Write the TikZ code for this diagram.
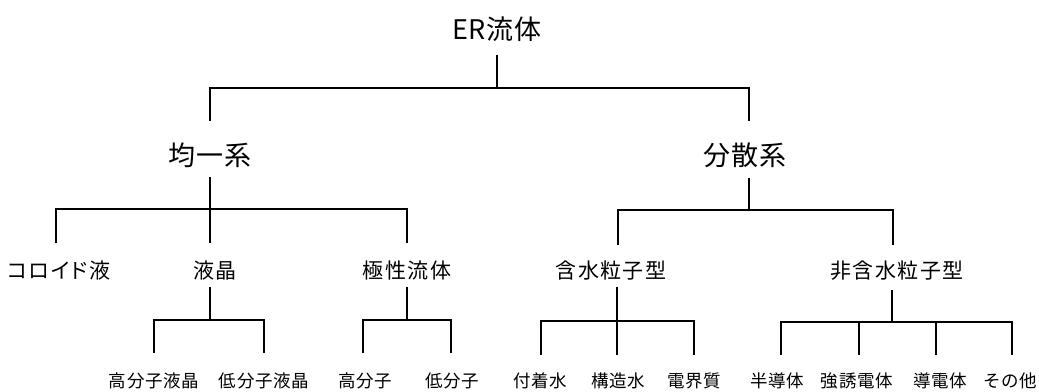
\documentclass[tikz,border=0pt]{standalone}
\usepackage{fontspec}
\setmainfont{Noto Sans CJK JP}
\begin{document}
\begin{tikzpicture}[x=1pt,y=-1pt,
  lv1/.style={font=\fontsize{27}{30}\selectfont\addfontfeature{LetterSpace=3}, inner sep=0pt},
  lv3/.style={font=\fontsize{21}{24}\selectfont\addfontfeature{LetterSpace=7}, inner sep=0pt},
  lvk/.style={font=\fontsize{21}{24}\selectfont\addfontfeature{RawFeature=+palt,LetterSpace=7}, inner sep=0pt},
  lv4/.style={font=\fontsize{17.5}{20}\selectfont\addfontfeature{LetterSpace=4}, inner sep=0pt},
  conn/.style={line width=1.7pt, line cap=butt}]
\useasboundingbox (0,0) rectangle (1039,391);
% level 1 and 2
\node[lv1] (er) at (497,29) {ER流体};
\node[lv1] (kin) at (210,155) {均一系};
\node[lv1] (bun) at (745,155) {分散系};
% level 3
\node[lvk] (col) at (59,271) {コロイド液};
\node[lv3] (liq) at (215,271) {液晶};
\node[lv3] (pol) at (407,271) {極性流体};
\node[lv3] (gan) at (611,271) {含水粒子型};
\node[lv3] (hig) at (897,271) {非含水粒子型};
% level 4
\node[lv4] (kl) at (154,381) {高分子液晶};
\node[lv4] (tl) at (264,381) {低分子液晶};
\node[lv4] (kb) at (365,381) {高分子};
\node[lv4] (tb) at (452,381) {低分子};
\node[lv4] (fu) at (540,381) {付着水};
\node[lv4] (ko) at (618,381) {構造水};
\node[lv4] (de) at (694,381) {電界質};
\node[lv4] (ha) at (777,381) {半導体};
\node[lv4] (ky) at (857,381) {強誘電体};
\node[lv4] (dd) at (940,381) {導電体};
\node[lv4] (so) at (1010,381) {その他};
% junction coordinates
\coordinate (er-b) at (497,55);   \coordinate (er-j) at (497,88);
\coordinate (kin-t) at (210,121); \coordinate (bun-t) at (749,121);
\coordinate (kin-b) at (210,177); \coordinate (kin-j) at (210,209);
\coordinate (col-t) at (56,243);  \coordinate (liq-t) at (210,243); \coordinate (pol-t) at (407,243);
\coordinate (bun-b) at (749,178); \coordinate (bun-j) at (749,210);
\coordinate (gan-t) at (618,245); \coordinate (hig-t) at (893,245);
\coordinate (liq-b) at (210,287); \coordinate (liq-j) at (210,320);
\coordinate (kl-t) at (154,353); \coordinate (tl-t) at (264,353);
\coordinate (pol-b) at (407,287); \coordinate (pol-j) at (407,320);
\coordinate (kb-t) at (363,353); \coordinate (tb-t) at (451,353);
\coordinate (gan-b) at (617,287); \coordinate (gan-j) at (617,321);
\coordinate (fu-t) at (541,355); \coordinate (ko-t) at (617,355); \coordinate (de-t) at (694,355);
\coordinate (hig-b) at (892,290); \coordinate (hig-j) at (892,322);
\coordinate (ha-t) at (781,355); \coordinate (ky-t) at (859,355); \coordinate (dd-t) at (936,355); \coordinate (so-t) at (1012,355);
% connectors
\draw[conn] (er-b) -- (er-j);
\draw[conn] (kin-t) -- (kin-t |- er-j) -- (bun-t |- er-j) -- (bun-t);
\draw[conn] (kin-b) -- (kin-j);
\draw[conn] (col-t) -- (col-t |- kin-j) -- (pol-t |- kin-j) -- (pol-t);
\draw[conn] (kin-j) -- (liq-t);
\draw[conn] (bun-b) -- (bun-j);
\draw[conn] (gan-t) -- (gan-t |- bun-j) -- (hig-t |- bun-j) -- (hig-t);
\draw[conn] (liq-b) -- (liq-j);
\draw[conn] (kl-t) -- (kl-t |- liq-j) -- (tl-t |- liq-j) -- (tl-t);
\draw[conn] (pol-b) -- (pol-j);
\draw[conn] (kb-t) -- (kb-t |- pol-j) -- (tb-t |- pol-j) -- (tb-t);
\draw[conn] (gan-b) -- (gan-j);
\draw[conn] (fu-t) -- (fu-t |- gan-j) -- (de-t |- gan-j) -- (de-t);
\draw[conn] (gan-j) -- (ko-t);
\draw[conn] (hig-b) -- (hig-j);
\draw[conn] (ha-t) -- (ha-t |- hig-j) -- (so-t |- hig-j) -- (so-t);
\draw[conn] (ky-t |- hig-j) -- (ky-t);
\draw[conn] (dd-t |- hig-j) -- (dd-t);
\end{tikzpicture}
\end{document}
